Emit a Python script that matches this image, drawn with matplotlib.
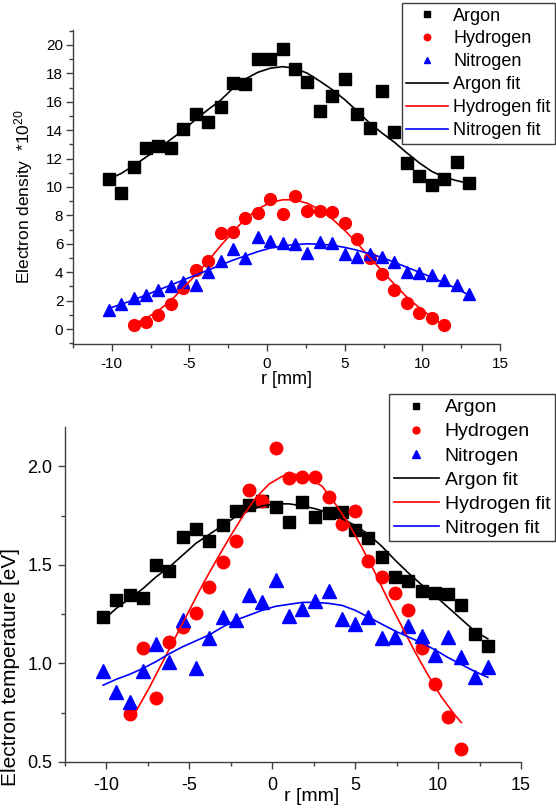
import matplotlib
matplotlib.use('Agg')
import matplotlib.pyplot as plt
from matplotlib.ticker import MultipleLocator

plt.rcParams['font.family'] = ['Liberation Sans', 'DejaVu Sans']
plt.rcParams['mathtext.default'] = 'regular'
plt.rcParams['axes.unicode_minus'] = False

# radial positions [mm]
r_all = [-10.2, -9.4, -8.6, -7.8, -7.0, -6.2, -5.4, -4.6, -3.8, -3.0,
         -2.2, -1.4, -0.6, 0.2, 1.0, 1.8, 2.6, 3.4, 4.2, 5.0,
         5.8, 6.6, 7.4, 8.2, 9.0, 9.8, 10.6, 11.4, 12.2, 13.0]
r_h = [-8.6, -7.8, -7.0, -6.2, -5.4, -4.6, -3.8, -3.0, -2.2, -1.4,
       -0.6, 0.2, 1.0, 1.8, 2.6, 3.4, 4.2, 5.0, 5.8, 6.6,
       7.4, 8.2, 9.0, 9.8, 10.6, 11.4]
r_h_fit_te = [-8.2, -7.4, -6.6, -5.8, -5.0, -4.2, -3.4, -2.6, -1.8, -1.0,
              -0.2, 0.6, 1.4, 2.2, 3.0, 3.8, 4.6, 5.4, 6.2, 7.0,
              7.8, 8.6, 9.4, 10.2, 11.0, 11.4]

# electron density *1e20
ne_ar = [10.56, 9.55, 11.43, 12.77, 12.89, 12.77, 14.11, 15.14, 14.6, 15.63,
         17.35, 17.25, 18.99, 19.03, 19.7, 18.3, 17.42, 15.35, 16.43, 17.6,
         15.16, 14.18, 16.78, 13.87, 11.71, 10.8, 10.14, 10.54, 11.74, 10.26]
ne_h = [0.28, 0.47, 0.99, 1.74, 2.92, 4.15, 4.79, 6.78, 6.8, 7.8,
        8.2, 9.15, 8.08, 9.37, 8.33, 8.33, 8.21, 7.44, 6.36, 5.01,
        3.89, 2.75, 1.86, 1.15, 0.80, 0.26]
ne_n = [1.34, 1.74, 2.2, 2.39, 2.75, 3.03, 3.33, 3.1, 4.01, 4.77,
        5.63, 5.02, 6.45, 6.22, 6.03, 5.99, 5.33, 6.15, 6.08, 5.28,
        5.05, 5.28, 5.1, 4.72, 4.04, 3.92, 3.8, 3.45, 3.1, 2.44]
ne_ar_fit = [10.55, 10.95, 11.5, 12.1, 12.7, 13.35, 14.0, 14.75, 15.45, 16.1,
             16.95, 17.6, 18.07, 18.36, 18.47, 18.36, 18.0, 17.45, 16.85, 16.15,
             15.35, 14.5, 13.8, 13.15, 12.4, 11.7, 11.1, 10.7, 10.45, 10.25]
ne_h_fit = [0.35, 0.75, 1.3, 2.0, 2.9, 3.8, 4.8, 5.85, 6.85, 7.75,
            8.45, 8.9, 9.1, 9.1, 8.85, 8.4, 7.75, 6.95, 6.05, 5.05,
            4.1, 3.15, 2.25, 1.5, 0.85, 0.25]
ne_n_fit = [1.45, 1.75, 2.05, 2.4, 2.75, 3.1, 3.45, 3.8, 4.15, 4.5,
            4.85, 5.15, 5.45, 5.7, 5.85, 5.95, 6.0, 5.98, 5.9, 5.75,
            5.55, 5.3, 5.05, 4.7, 4.35, 4.0, 3.65, 3.25, 2.85, 2.4]

# electron temperature [eV]
te_ar = [1.238, 1.322, 1.345, 1.333, 1.502, 1.471, 1.64, 1.682, 1.62, 1.703,
         1.772, 1.806, 1.826, 1.792, 1.716, 1.818, 1.741, 1.762, 1.767, 1.677,
         1.637, 1.542, 1.441, 1.417, 1.37, 1.358, 1.353, 1.297, 1.15, 1.091]
te_h = [0.745, 1.078, 0.826, 1.108, 1.184, 1.257, 1.387, 1.513, 1.62, 1.88,
        1.823, 2.091, 1.941, 1.944, 1.944, 1.843, 1.708, 1.775, 1.522, 1.441,
        1.358, 1.269, 1.079, 0.894, 0.728, 0.564]
te_n = [0.964, 0.855, 0.804, 0.964, 1.099, 1.007, 1.221, 0.978, 1.13, 1.238,
        1.221, 1.35, 1.311, 1.424, 1.243, 1.277, 1.319, 1.37, 1.226, 1.201,
        1.238, 1.13, 1.133, 1.189, 1.137, 1.044, 1.133, 1.032, 0.931, 0.981]
te_ar_fit = [1.22, 1.28, 1.33, 1.38, 1.44, 1.49, 1.55, 1.61, 1.655, 1.70,
             1.745, 1.775, 1.80, 1.81, 1.81, 1.80, 1.785, 1.765, 1.735, 1.70,
             1.655, 1.595, 1.525, 1.46, 1.40, 1.345, 1.285, 1.225, 1.165, 1.125]
te_h_fit = [0.76, 0.88, 1.01, 1.14, 1.27, 1.40, 1.52, 1.635, 1.745, 1.84,
            1.91, 1.95, 1.96, 1.94, 1.90, 1.81, 1.71, 1.59, 1.46, 1.32,
            1.19, 1.06, 0.94, 0.83, 0.74, 0.70]
te_n_fit = [0.89, 0.92, 0.945, 0.975, 1.01, 1.05, 1.085, 1.115, 1.145, 1.185,
            1.22, 1.245, 1.27, 1.29, 1.30, 1.31, 1.31, 1.305, 1.295, 1.27,
            1.235, 1.20, 1.165, 1.135, 1.105, 1.07, 1.03, 0.995, 0.96, 0.93]


def style_axes(ax, ymajor, yminor, fs, xpad, ypad):
    for side in ('top', 'right'):
        ax.spines[side].set_visible(False)
    for side in ('left', 'bottom'):
        ax.spines[side].set_color('#404040')
        ax.spines[side].set_linewidth(1.0)
    ax.xaxis.set_major_locator(MultipleLocator(5))
    ax.xaxis.set_minor_locator(MultipleLocator(2.5))
    ax.yaxis.set_major_locator(MultipleLocator(ymajor))
    ax.yaxis.set_minor_locator(MultipleLocator(yminor))
    ax.tick_params(which='major', direction='out', length=5, width=1,
                   color='#404040', labelsize=fs)
    ax.tick_params(which='minor', direction='out', length=3, width=1,
                   color='#404040')
    ax.tick_params(axis='x', which='major', pad=xpad)
    ax.tick_params(axis='y', which='major', pad=ypad)


def draw_panel(ax, ar, h, n, ar_fit, h_fit, h_fit_r, n_fit, ms):
    ax.plot(r_all, ar, ls='none', marker='s', ms=ms, color='black', label='Argon')
    ax.plot(r_h, h, ls='none', marker='o', ms=ms, color='red', label='Hydrogen')
    ax.plot(r_all, n, ls='none', marker='^', ms=ms + 0.5, color='blue', label='Nitrogen')
    ax.plot(r_all, ar_fit, color='black', lw=1.2, label='Argon fit')
    ax.plot(h_fit_r, h_fit, color='red', lw=1.2, label='Hydrogen fit')
    ax.plot(r_all, n_fit, color='blue', lw=1.2, label='Nitrogen fit')


def add_legend(ax, top_px, fs, mscale):
    ax.legend(loc='upper right', bbox_to_anchor=(555 / 556, 1 - top_px / 811),
              bbox_transform=fig.transFigure, fontsize=fs, frameon=True,
              fancybox=False, edgecolor='#404040', framealpha=1,
              markerscale=mscale, handlelength=2.3, handletextpad=0.3,
              labelspacing=0.33, borderpad=0.25, borderaxespad=0)


fig = plt.figure(figsize=(5.56, 8.11), dpi=100)

ax1 = fig.add_axes([73 / 556, 1 - 344 / 811, 427 / 556, 314 / 811])
draw_panel(ax1, ne_ar, ne_h, ne_n, ne_ar_fit, ne_h_fit, r_h, ne_n_fit, 8.5)
style_axes(ax1, 2, 1, 11, 4, 2)
ax1.set_xlim(-12.5, 15)
ax1.set_ylim(-1.05, 21.05)
ax1.set_xlabel('r [mm]', fontsize=13, labelpad=0)
ax1.set_ylabel(r'Electron density  *10$^{20}$', fontsize=12.5)
ax1.yaxis.set_label_coords(-0.088, 0.47)
add_legend(ax1, 3, 13, 0.55)

ax2 = fig.add_axes([65 / 556, 1 - 762 / 811, 456 / 556, 335 / 811])
draw_panel(ax2, te_ar, te_h, te_n, te_ar_fit, te_h_fit, r_h_fit_te, te_n_fit, 9)
style_axes(ax2, 0.5, 0.25, 13, 6, 4)
ax2.set_xlim(-12.5, 15)
ax2.set_ylim(0.5, 2.2)
ax2.set_xlabel('r [mm]', fontsize=14)
ax2.xaxis.set_label_coords((312 - 65) / 456, -0.078)
ax2.set_ylabel('Electron temperature [eV]', fontsize=15)
ax2.yaxis.set_label_coords(-0.098, 0.285)
add_legend(ax2, 394, 14, 0.55)

fig.savefig('out.png', dpi=100)
